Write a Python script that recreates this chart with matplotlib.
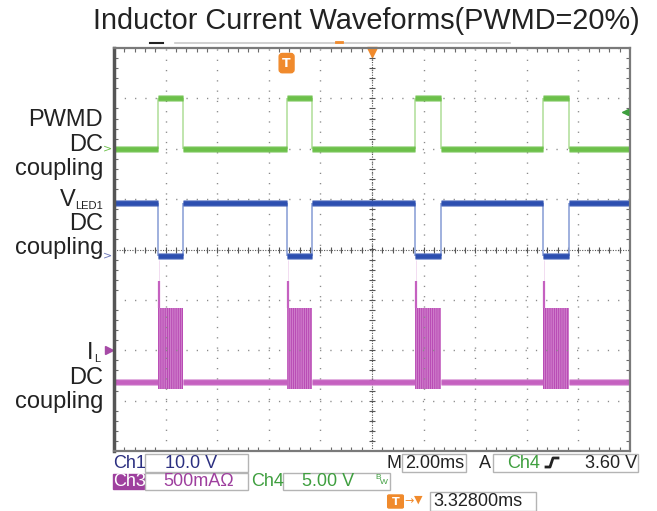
import matplotlib
matplotlib.use("Agg")
import numpy as np
import matplotlib.pyplot as plt
from matplotlib.patches import Rectangle, FancyBboxPatch
from matplotlib.lines import Line2D
from matplotlib.ticker import MultipleLocator

plt.rcParams["font.family"] = ["Liberation Sans", "DejaVu Sans"]
plt.rcParams["hatch.linewidth"] = 0.9

# scope settings, screen is 10 x 8 divisions, 2 ms/div
time_per_div_ms = 2.0
screen_ms = 20.0

# PWMD pulse edges (ms from left edge of screen)
pwmd_rise_ms = [1.69, 6.69, 11.67, 16.63]
pwmd_fall_ms = [2.69, 7.66, 12.66, 17.64]

# trace levels in screen divisions (0 = centre line)
pwmd_low_div = 2.0
pwmd_high_div = 3.0
vled_high_div = 0.92
vled_low_div = -0.12
il_base_div = -2.63
il_ripple_top_div = -1.17
il_ripple_bottom_div = -2.77
il_spike_div = -0.62

trigger_level_div = 2.72
trigger_ms = 6.69

green = "#6cc04a"
green_edge = "#b5e0a0"
blue = "#2d4fb0"
blue_edge = "#8fa3d8"
purple = "#c561c0"
purple_fill = "#dc9bd8"
purple_dark = "#b94db5"
orange = "#f08a2c"

W, H = 657, 511


def fx(x):
    return x / W


def fy(y):
    return 1 - y / H


def low_spans(rise, fall, t0=0.0, t1=screen_ms):
    starts = [t0] + list(fall)
    ends = list(rise) + [t1]
    return starts, ends


def flat(ax, level, starts, ends, color):
    y = np.full(len(starts), level)
    for lw, a in [(5.0, 0.5), (3.4, 1.0)]:
        ax.hlines(y, starts, ends, color=color, lw=lw, alpha=a)


fig = plt.figure(figsize=(W / 100, H / 100), dpi=100)
ax = fig.add_axes([fx(114), fy(451), 516 / W, 403 / H])
ax.set_xlim(0, screen_ms)
ax.set_ylim(-4, 4)

# graticule
ax.set_xticks(np.arange(0, screen_ms + 0.01, time_per_div_ms))
ax.set_yticks(np.arange(-4, 5, 1))
ax.xaxis.set_minor_locator(MultipleLocator(0.4))
ax.yaxis.set_minor_locator(MultipleLocator(0.2))
ax.grid(True, which="major", color="#8a8a8a", lw=1.0, linestyle=(0, (0.9, 6.5)))
ax.tick_params(which="major", length=0, labelbottom=False, labelleft=False)
ax.tick_params(which="minor", direction="in", length=3, width=0.8, color="#6a6a6a",
               top=True, right=True, bottom=True, left=True)
for s in ax.spines.values():
    s.set_color("#7a7a7a")
    s.set_linewidth(1.6)
ax.spines["left"].set_linewidth(2.5)
ax.spines["left"].set_color("#555555")

ax.axhline(0, color="#555555", lw=0.8, linestyle=(0, (1, 1.3)))
ax.axvline(screen_ms / 2, color="#555555", lw=0.8, linestyle=(0, (1, 1.3)))
ax.plot(np.arange(0, screen_ms + 0.01, 0.4), np.zeros(51), "|", ms=5, mew=0.8, color="#555555")
ax.plot(np.full(41, screen_ms / 2), np.arange(-4, 4.01, 0.2), "_", ms=5, mew=0.8, color="#555555")

edges = pwmd_rise_ms + pwmd_fall_ms
ls, le = low_spans(pwmd_rise_ms, pwmd_fall_ms)

# PWMD (green)
ax.vlines(edges, pwmd_low_div, pwmd_high_div, color=green_edge, lw=1.2)
flat(ax, pwmd_low_div, ls, le, green)
flat(ax, pwmd_high_div, pwmd_rise_ms, pwmd_fall_ms, green)

# VLED1 (blue), low while PWMD is high
ax.vlines(edges, vled_low_div, vled_high_div, color=blue_edge, lw=1.2)
flat(ax, vled_high_div, ls, le, blue)
flat(ax, vled_low_div, pwmd_rise_ms, pwmd_fall_ms, blue)

# IL (purple)
flat(ax, il_base_div, ls, le, purple)
for r, f in zip(pwmd_rise_ms, pwmd_fall_ms):
    ax.fill_between([r, f], il_ripple_bottom_div, il_ripple_top_div,
                    facecolor=purple_fill, edgecolor=purple_dark, hatch="|||||||||", lw=0)
    ax.vlines(r + 0.04, il_ripple_top_div, il_spike_div, color=purple, lw=1.6)
    ax.vlines(r + 0.04, il_spike_div, -0.2, color=purple, lw=0.6, alpha=0.25)

# channel markers
ax.text(-0.08, pwmd_low_div, ">", color=green, fontsize=8, ha="right", va="center",
        family="DejaVu Sans", clip_on=False)
ax.text(-0.08, vled_low_div, ">", color="#6a75b8", fontsize=8, ha="right", va="center",
        family="DejaVu Sans", clip_on=False)
ax.plot([-0.2], [-2.0], marker=">", ms=6, color="#a64aa6", clip_on=False)
ax.annotate("", xy=(19.55, trigger_level_div), xytext=(20.0, trigger_level_div),
            arrowprops=dict(arrowstyle="-|>", color="#3f9f3f", lw=1.2, mutation_scale=10))
ax.plot([screen_ms / 2], [3.93], marker="v", ms=7, color=orange, clip_on=False)
ax.text(trigger_ms, 3.7, "T", color="white", fontsize=9, fontweight="bold", ha="center",
        va="center", family="DejaVu Sans",
        bbox=dict(boxstyle="round,pad=0.25", fc=orange, ec=orange))

# record bar remnant above the screen
fig.add_artist(Line2D([fx(175), fx(510)], [fy(43), fy(43)], color="#c8c8c8", lw=1.2))
fig.add_artist(Line2D([fx(150), fx(163)], [fy(43), fy(43)], color="#222222", lw=1.5))
fig.add_artist(Line2D([fx(336), fx(342)], [fy(42), fy(42)], color=orange, lw=2))

# title
fig.text(fx(366), fy(21), "Inductor Current Waveforms(PWMD=20%)", fontsize=20.8,
         color="#222222", ha="center", va="center")

# channel labels on the left
lab = dict(fontsize=17, color="#222222", ha="right", va="center")
sub = dict(fontsize=8, color="#222222", ha="right", va="center")
fig.text(fx(103), fy(120), "PWMD", **lab)
fig.text(fx(103), fy(145), "DC", **lab)
fig.text(fx(103), fy(169), "coupling", **lab)
fig.text(fx(76), fy(200), "V", **lab)
fig.text(fx(103), fy(206), "LED1", **sub)
fig.text(fx(103), fy(224), "DC", **lab)
fig.text(fx(103), fy(248), "coupling", **lab)
fig.text(fx(93), fy(353), "I", **lab)
fig.text(fx(100), fy(359), "L", **sub)
fig.text(fx(103), fy(378), "DC", **lab)
fig.text(fx(103), fy(402), "coupling", **lab)


# status bar
def box(x0, y0, x1, y1, fc="none", ec="#b4b4b4"):
    fig.add_artist(Rectangle((fx(x0), fy(y1)), (x1 - x0) / W, (y1 - y0) / H,
                             transform=fig.transFigure, fc=fc, ec=ec, lw=1))


def stext(x, y, s, color, size=13, ha="left"):
    fig.text(fx(x), fy(y), s, color=color, fontsize=size, ha=ha, va="center")


navy = "#2b2f80"
sgreen = "#3f9f3f"
spurple = "#9e3f9e"
row1, row2, row3 = 463, 482, 501

stext(113, row1, "Ch1", navy)
box(145, 454, 248, 472)
stext(165, row1, "10.0 V", navy)
stext(387, row1, "M", "#222222")
box(402, 454, 466, 472)
stext(405, row1, "2.00ms", "#222222")
stext(479, row1, "A", "#222222")
box(493, 454, 638, 472)
stext(507, row1, "Ch4", sgreen)
fig.add_artist(Line2D([fx(546), fx(550), fx(553), fx(558)],
                      [fy(467), fy(467), fy(458), fy(458)], color="#222222", lw=2))
stext(637, row1, "3.60 V", "#222222", ha="right")

box(113, 474, 144, 489, fc=spurple, ec=spurple)
stext(113, row2, "Ch3", "white")
box(145, 473, 248, 490)
stext(163, row2, "500mAΩ", spurple)
stext(251, row2, "Ch4", sgreen)
box(283, 473, 390, 490)
stext(302, row2, "5.00 V", sgreen)
stext(375, 477, "B", sgreen, size=6)
stext(380, 482, "W", sgreen, size=6)

fig.add_artist(FancyBboxPatch((fx(389), fy(507)), 13 / W, 11 / H, boxstyle="round,pad=0.002",
                              transform=fig.transFigure, fc=orange, ec=orange))
fig.text(fx(395.5), fy(501.5), "T", color="white", fontsize=8, fontweight="bold",
         ha="center", va="center", family="DejaVu Sans")
fig.text(fx(404), fy(501), "→", color=orange, fontsize=8, ha="left", va="center",
         family="DejaVu Sans")
fig.text(fx(414), fy(500), "▼", color=orange, fontsize=8, ha="left", va="center",
         family="DejaVu Sans")
box(430, 492, 536, 511)
stext(433, row3, "3.32800ms", "#222222")

fig.savefig("out.png", dpi=100, facecolor="white")
